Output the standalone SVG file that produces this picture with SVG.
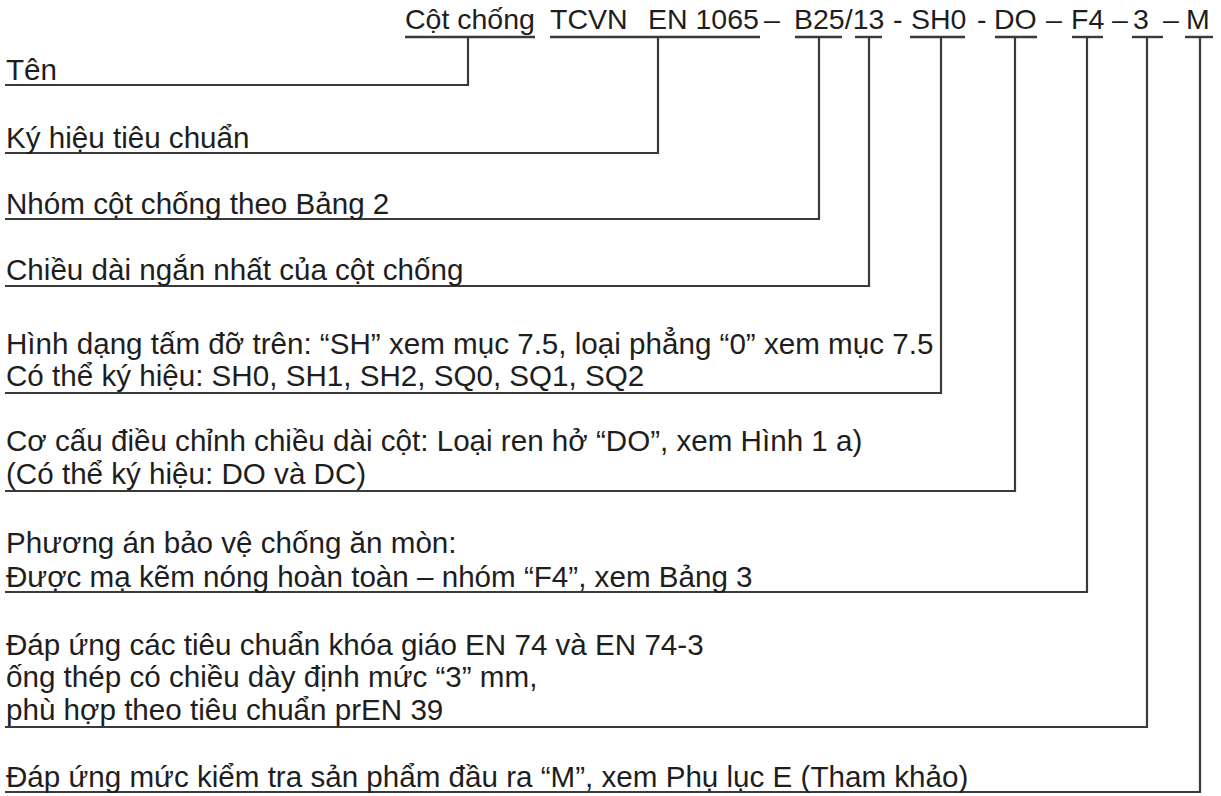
<svg xmlns="http://www.w3.org/2000/svg" width="1221" height="796" viewBox="0 0 1221 796">
<style>
text{font-family:"Liberation Sans",Arial,sans-serif;fill:#1e1e1e}
.h{font-size:28.5px}
.l{font-size:29.6px}
.c{fill:none;stroke:#3a3a3a;stroke-width:2.2;stroke-linejoin:miter}
.u{stroke:#3a3a3a;stroke-width:2.4}
</style>
<rect width="1221" height="796" fill="#fff"/>
<g id="header">
<text class="h" y="29"><tspan x="405">Cột chống</tspan><tspan x="550">TCVN</tspan><tspan x="648">EN 1065</tspan><tspan x="764">–</tspan><tspan x="794">B25/13</tspan><tspan x="893">-</tspan><tspan x="911">SH0</tspan><tspan x="977">-</tspan><tspan x="994">DO</tspan><tspan x="1046">–</tspan><tspan x="1071">F4</tspan><tspan x="1112">–</tspan><tspan x="1133">3</tspan><tspan x="1163">–</tspan><tspan x="1186">M</tspan></text>
<g class="u">
<line x1="405" y1="37" x2="535" y2="37"/>
<line x1="550" y1="37" x2="760" y2="37"/>
<line x1="795" y1="37" x2="842" y2="37"/>
<line x1="855" y1="37" x2="882" y2="37"/>
<line x1="910" y1="37" x2="965" y2="37"/>
<line x1="995" y1="37" x2="1037" y2="37"/>
<line x1="1072" y1="37" x2="1103" y2="37"/>
<line x1="1132" y1="37" x2="1163" y2="37"/>
<line x1="1185" y1="37" x2="1213" y2="37"/>
</g>
</g>
<g id="connectors">
<polyline class="c" points="468,37 468,85 5,85"/>
<polyline class="c" points="658,37 658,153 5,153"/>
<polyline class="c" points="819,37 819,219 5,219"/>
<polyline class="c" points="869,37 869,286 5,286"/>
<polyline class="c" points="941,37 941,393 5,393"/>
<polyline class="c" points="1015,37 1015,491 5,491"/>
<polyline class="c" points="1087,37 1087,592 5,592"/>
<polyline class="c" points="1147,37 1147,727 5,727"/>
<polyline class="c" points="1200,37 1200,792 5,792"/>
</g>
<g id="n-ten"><text class="l" x="6" y="80">Tên</text></g>
<g id="n-kyhieu"><text class="l" x="6" y="148">Ký hiệu tiêu chuẩn</text></g>
<g id="n-nhom"><text class="l" x="6" y="214">Nhóm cột chống theo Bảng 2</text></g>
<g id="n-chieudai"><text class="l" x="6" y="280">Chiều dài ngắn nhất của cột chống</text></g>
<g id="n-hinhdang"><text class="l" x="6" y="354">Hình dạng tấm đỡ trên: “SH” xem mục 7.5, loại phẳng “0” xem mục 7.5</text><text class="l" x="6" y="386">Có thể ký hiệu: SH0, SH1, SH2, SQ0, SQ1, SQ2</text></g>
<g id="n-cocau"><text class="l" x="6" y="451">Cơ cấu điều chỉnh chiều dài cột: Loại ren hở “DO”, xem Hình 1 a)</text><text class="l" x="6" y="484">(Có thể ký hiệu: DO và DC)</text></g>
<g id="n-phuongan"><text class="l" x="6" y="553">Phương án bảo vệ chống ăn mòn:</text><text class="l" x="6" y="587">Được mạ kẽm nóng hoàn toàn – nhóm “F4”, xem Bảng 3</text></g>
<g id="n-dapung"><text class="l" x="6" y="655">Đáp ứng các tiêu chuẩn khóa giáo EN 74 và EN 74-3</text><text class="l" x="6" y="687">ống thép có chiều dày định mức “3” mm,</text><text class="l" x="6" y="720">phù hợp theo tiêu chuẩn prEN 39</text></g>
<g id="n-kiemtra"><text class="l" x="6" y="787">Đáp ứng mức kiểm tra sản phẩm đầu ra “M”, xem Phụ lục E (Tham khảo)</text></g>
</svg>
